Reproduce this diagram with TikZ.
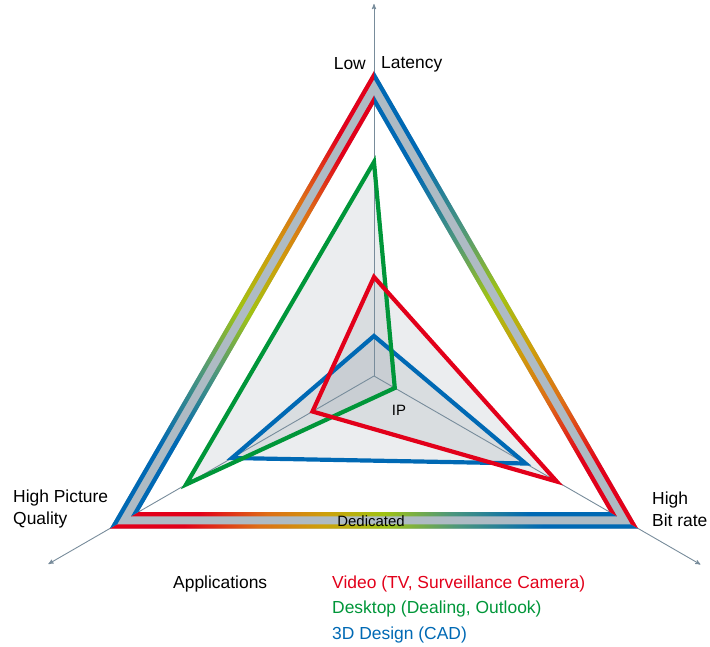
\documentclass[tikz,border=0pt]{standalone}
\usepackage{fontspec}
\setmainfont{Liberation Sans}
\usepackage{tikz}
\usetikzlibrary{arrows}
\definecolor{cred}{RGB}{226,0,26}
\definecolor{cgreen}{RGB}{0,150,57}
\definecolor{cblue}{RGB}{0,105,180}
\definecolor{corange}{RGB}{222,110,22}
\definecolor{cochre}{RGB}{205,160,10}
\definecolor{cyellow}{RGB}{160,195,20}
\definecolor{cteal}{RGB}{75,150,125}
\definecolor{cband}{RGB}{174,187,196}
\definecolor{caxis}{RGB}{120,140,155}
\definecolor{cshade}{RGB}{70,90,105}
\pgfdeclarehorizontalshading{bandshade}{100bp}{color(0bp)=(cred); color(32bp)=(cred);
  color(39bp)=(corange); color(45bp)=(cochre); color(51bp)=(cyellow);
  color(58bp)=(cteal); color(66bp)=(cblue); color(100bp)=(cblue)}

\begin{document}
\begin{tikzpicture}[x=1bp,y=1bp,>=stealth',
  axis line/.style={draw=caxis,line width=0.9bp},
  app fill/.style={fill=cshade,fill opacity=0.11},
  app line/.style={line width=4.2bp,line join=miter},
  label node/.style={font=\fontsize{17.5}{22}\selectfont,inner sep=0pt},
  small node/.style={font=\fontsize{15}{18}\selectfont,inner sep=0pt}]
  \useasboundingbox (-374,-271) rectangle (336,376);

  \coordinate (O) at (0,0);
  \coordinate (axtop) at (90:372);
  \coordinate (axleft) at (210:376);
  \coordinate (axright) at (330:377);

  \coordinate (v1) at (90:99);  \coordinate (v2) at (210:71);  \coordinate (v3) at (330:211);
  \coordinate (d1) at (90:214); \coordinate (d2) at (210:217); \coordinate (d3) at (330:24);
  \coordinate (c1) at (90:40);  \coordinate (c2) at (210:164); \coordinate (c3) at (330:175);

  \coordinate (o1) at (90:305); \coordinate (o2) at (210:305); \coordinate (o3) at (330:305);
  \coordinate (i1) at (90:272); \coordinate (i2) at (210:272); \coordinate (i3) at (330:272);

  \fill[app fill] (v1) -- (v2) -- (v3) -- cycle;
  \fill[app fill] (d1) -- (d2) -- (d3) -- cycle;
  \fill[app fill] (c1) -- (c2) -- (c3) -- cycle;

  \draw[axis line,->] (O) -- (axtop);
  \draw[axis line,->] (O) -- (axleft);
  \draw[axis line,->] (O) -- (axright);

  \draw[app line,cblue] (c1) -- (c2) -- (c3) -- cycle;
  \draw[app line,cgreen] (d1) -- (d2) -- (d3) -- cycle;
  \draw[app line,cred] (v1) -- (v2) -- (v3) -- cycle;

  \fill[cband,even odd rule] (o1) -- (o2) -- (o3) -- cycle (i1) -- (i2) -- (i3) -- cycle;
  \foreach \r in {0,120,240}{
    \begin{scope}[transform canvas={rotate around={\r:(0,0)}}]
      \shade[shading=bandshade] (210:305) -- (330:305) -- (330:296.5) -- (210:296.5) -- cycle;
      \shade[shading=bandshade] (210:280.5) -- (330:280.5) -- (330:272) -- (210:272) -- cycle;
    \end{scope}
  }

  \node[label node,anchor=east] (low) at (-8,312) {Low};
  \node[label node,anchor=west] (latency) at (7,312) {Latency};
  \node[label node,anchor=west,align=left] (quality) at (-361,-133) {High Picture\\Quality};
  \node[label node,anchor=west,align=left] (bitrate) at (278,-133) {High\\Bit rate};
  \node[small node] (ip) at (25,-34) {IP};
  \node[small node] (dedicated) at (-3,-145) {Dedicated};

  \node[label node,anchor=west] (apps) at (-201,-208) {Applications};
  \node[label node,anchor=west,text=cred] (video) at (-42,-208) {Video (TV, Surveillance Camera)};
  \node[label node,anchor=west,text=cgreen] (desktop) at (-42,-233) {Desktop (Dealing, Outlook)};
  \node[label node,anchor=west,text=cblue] (design) at (-42,-259) {3D Design (CAD)};
\end{tikzpicture}
\end{document}
